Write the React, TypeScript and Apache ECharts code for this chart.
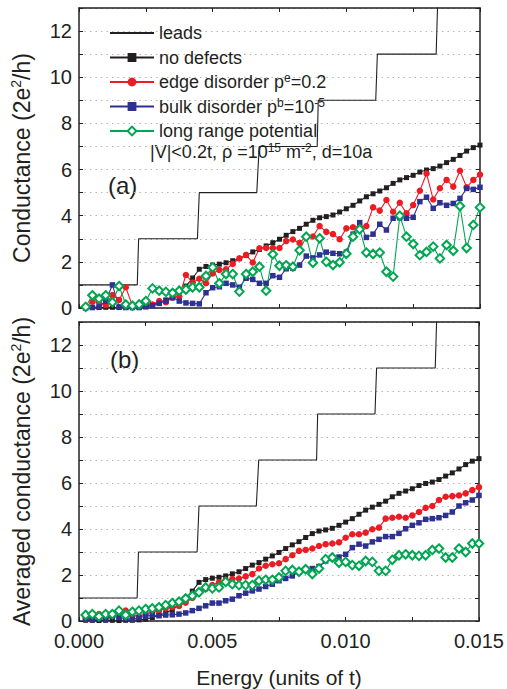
import React, { useEffect, useRef } from "react";
import * as echarts from "echarts";

// Energy grid (units of t)
const energy = [
  0.00025, 0.0005, 0.00075, 0.001, 0.00125, 0.0015, 0.00175, 0.002, 0.00225, 0.0025,
  0.00275, 0.003, 0.00325, 0.0035, 0.00375, 0.004, 0.00425, 0.0045, 0.00475, 0.005,
  0.00525, 0.0055, 0.00575, 0.006, 0.00625, 0.0065, 0.00675, 0.007, 0.00725, 0.0075,
  0.00775, 0.008, 0.00825, 0.0085, 0.00875, 0.009, 0.00925, 0.0095, 0.00975, 0.01,
  0.01025, 0.0105, 0.01075, 0.011, 0.01125, 0.0115, 0.01175, 0.012, 0.01225, 0.0125,
  0.01275, 0.013, 0.01325, 0.0135, 0.01375, 0.014, 0.01425, 0.0145, 0.01475, 0.015,
];

// leads: step function
const leadsE = [0, 0.00218, 0.00223, 0.00443, 0.0045, 0.00665, 0.00674, 0.00891, 0.00895, 0.0111, 0.01116, 0.01336, 0.01346];
const leadsG = [1, 1, 3, 3, 5, 5, 7, 7, 9, 9, 11, 11, 15];

// no defects (same in both panels)
const noDefects = [
  0.03, 0.03, 0.02, 0.03, 0.03, 0.02, 0.03, 0.03, 0.05, 0.08,
  0.15, 0.25, 0.35, 0.5, 0.7, 0.95, 1.3, 1.68, 1.8, 1.86,
  1.9, 1.96, 2.05, 2.14, 2.28, 2.43, 2.54, 2.69, 2.83, 2.98,
  3.15, 3.31, 3.45, 3.63, 3.8, 3.91, 3.96, 4.03, 4.16, 4.3,
  4.45, 4.64, 4.82, 4.95, 5.07, 5.21, 5.4, 5.55, 5.65, 5.75,
  5.89, 5.98, 6.04, 6.15, 6.3, 6.44, 6.61, 6.8, 6.95, 7.06,
];

// panel (a)
const edgeA = [
  0.06, 0.27, 0.25, 0.13, 0.56, 0.35, 0.9, 0.08, 0.12, 0.2,
  0.15, 0.3, 0.25, 0.45, 0.5, 1.43, 1.1, 1.27, 1.07, 1.5,
  1.65, 1.68, 1.91, 2.15, 2.3, 1.97, 2.59, 2.6, 2.6, 2.6,
  2.9, 2.97, 2.82, 3.1, 3.1, 3.55, 3.3, 3.2, 2.98, 3.45,
  3.5, 3.52, 3.55, 4.36, 4.22, 4.68, 4.17, 4.56, 4.1, 4.46,
  5.08, 5.83, 4.7, 5.19, 5.55, 5.26, 5.95, 5.23, 5.55, 5.78,
];
const bulkA = [
  0.0, 0.02, 0.05, 0.3, 1.0, 0.05, 0.02, 0.02, 0.02, 0.05,
  0.1, 0.2, 0.3, 0.45, 0.3, 0.22, 0.2, 0.18, 0.66, 0.88,
  0.92, 1.07, 1.0, 0.9, 1.29, 1.24, 1.07, 1.07, 1.4, 1.33,
  1.7, 1.72, 1.86, 2.25, 2.17, 2.3, 2.42, 2.37, 2.35, 2.42,
  3.2, 3.7, 3.06, 3.2, 3.63, 3.38, 3.89, 3.91, 3.89, 3.93,
  4.61, 4.8, 4.32, 4.56, 4.45, 4.53, 4.75, 5.18, 5.14, 5.23,
];
const longA = [
  0.05, 0.55, 0.4, 0.55, 0.25, 0.95, 0.15, 0.1, 0.15, 0.3,
  0.85, 0.75, 0.7, 0.65, 0.75, 0.8, 0.9, 0.9, 1.39, 1.76,
  1.07, 1.47, 1.47, 0.71, 1.47, 1.57, 1.79, 0.75, 2.33, 1.83,
  1.85, 1.79, 2.5, 3.09, 1.96, 3.02, 2.0, 1.86, 1.98, 2.35,
  3.09, 3.41, 2.4, 2.34, 2.4, 1.57, 1.36, 4.0, 3.09, 2.77,
  2.29, 2.43, 2.66, 2.15, 2.73, 2.48, 4.42, 2.6, 3.6, 4.36,
];

// panel (b), averaged
const edgeB = [
  0.1, 0.15, 0.3, 0.2, 0.25, 0.35, 0.45, 0.25, 0.2, 0.3,
  0.4, 0.45, 0.55, 0.6, 0.65, 0.8, 1.0, 1.28, 1.39, 1.56,
  1.68, 1.78, 1.82, 1.85, 1.94, 2.04, 2.28, 2.4, 2.47, 2.51,
  2.69, 2.86, 3.05, 3.09, 3.15, 3.26, 3.34, 3.37, 3.42, 3.62,
  3.77, 3.77, 3.84, 3.99, 4.06, 4.45, 4.49, 4.53, 4.49, 4.59,
  4.74, 4.92, 5.0, 5.26, 5.4, 5.43, 5.46, 5.55, 5.69, 5.82,
];
const bulkB = [
  0.09, 0.06, 0.1, 0.08, 0.2, 0.15, 0.1, 0.08, 0.15, 0.2,
  0.26, 0.23, 0.26, 0.27, 0.3, 0.35, 0.45, 0.55, 0.66, 0.78,
  0.78, 0.88, 0.95, 1.1, 1.21, 1.31, 1.39, 1.5, 1.6, 1.75,
  1.85, 1.96, 2.14, 2.25, 2.28, 2.37, 2.61, 2.72, 2.78, 2.9,
  3.19, 3.34, 3.26, 3.44, 3.55, 3.67, 3.67, 3.81, 4.01, 4.16,
  4.27, 4.42, 4.45, 4.49, 4.59, 4.74, 5.0, 5.14, 5.26, 5.46,
];
const longB = [
  0.26, 0.3, 0.2, 0.3, 0.3, 0.45, 0.26, 0.4, 0.45, 0.52,
  0.55, 0.6, 0.69, 0.78, 0.84, 0.98, 1.1, 1.25, 1.46, 1.42,
  1.46, 1.7, 1.6, 1.56, 1.56, 1.56, 1.75, 1.79, 1.79, 1.89,
  2.18, 2.22, 2.14, 2.25, 2.04, 2.28, 2.69, 2.76, 2.53, 2.57,
  2.43, 2.4, 2.61, 2.57, 2.18, 2.18, 2.66, 2.86, 2.9, 2.86,
  2.83, 2.86, 3.09, 3.15, 2.76, 2.76, 3.15, 3.0, 3.37, 3.37,
];

const xTicks = ["0.000", "0.005", "0.010", "0.015"];
const seriesNames = ["leads", "no defects", "edge disorder", "bulk disorder", "long range potential"];
const legendLabels: Record<string, string> = {
  "leads": "leads",
  "no defects": "no defects",
  "edge disorder": "edge disorder p{sup|e}=0.2",
  "bulk disorder": "bulk disorder p{sup|b}=10{sup|-5}",
  "long range potential": "long range potential",
};

const FONT = "'Liberation Sans', Arial, Helvetica, sans-serif";
const INK = "#231f20";
const RED = "#ed1c24";
const BLUE = "#2e3192";
const GREEN = "#00a651";

const pair = (ys: number[]) => energy.map((e, i) => [e, ys[i]]);

export default function App() {
  const ref = useRef<HTMLDivElement>(null);
  useEffect(() => {
    if (!ref.current) return;
    const chart = echarts.init(ref.current, undefined, { renderer: "svg" });

    const axisLine = { show: true, onZero: false, lineStyle: { color: INK, width: 1.5 } };
    const tick = { show: true, inside: true, length: 4, lineStyle: { color: INK, width: 1 } };

    const xFmt = (v: number) => {
      const n = Math.round(v / 0.0025);
      return n % 2 === 0 ? xTicks[n / 2] ?? "" : "";
    };
    const yFmt = (v: number) => (Math.round(v) % 2 === 0 ? String(Math.round(v)) : "");

    const mkX = (gridIndex: number, position: string, labels: boolean, name?: string) => ({
      type: "value",
      gridIndex,
      position,
      min: 0,
      max: 0.015,
      interval: 0.0025,
      axisLine,
      axisTick: tick,
      splitLine: { show: false },
      axisLabel: {
        show: labels,
        formatter: xFmt,
        fontSize: 20,
        color: INK,
        fontFamily: FONT,
        margin: 10,
        showMaxLabel: true,
        showMinLabel: true,
      },
      name: name || "",
      nameLocation: "middle",
      nameGap: 46,
      nameTextStyle: { fontSize: 21, color: INK, fontFamily: FONT },
    });

    const supRich = { sup: { fontSize: 14, verticalAlign: "top", lineHeight: 12, fontFamily: FONT, color: INK } };

    const mkY = (gridIndex: number, position: string, labels: boolean, name?: string) => ({
      type: "value",
      gridIndex,
      position,
      min: 0,
      max: 13,
      interval: 1,
      axisLine,
      axisTick: tick,
      splitLine: {
        show: labels,
        lineStyle: { color: "#b5b5b5", type: [1.5, 4], width: 1 },
      },
      axisLabel: {
        show: labels,
        formatter: yFmt,
        fontSize: 20,
        color: INK,
        fontFamily: FONT,
        margin: 7,
      },
      name: name || "",
      nameLocation: "middle",
      nameGap: 44,
      nameTextStyle: { fontSize: 23, color: INK, fontFamily: FONT, lineHeight: 26, rich: supRich },
    });

    const mkSeries = (xi: number, yi: number, sets: number[][]) => {
      const [nd, ed, bu, lo] = sets;
      return [
        {
          name: "leads",
          type: "line",
          xAxisIndex: xi,
          yAxisIndex: yi,
          data: leadsE.map((e, i) => [e, leadsG[i]]),
          symbol: "none",
          lineStyle: { color: INK, width: 1.1 },
          itemStyle: { color: INK },
        },
        {
          name: "no defects",
          type: "line",
          xAxisIndex: xi,
          yAxisIndex: yi,
          data: pair(nd),
          symbol: "rect",
          symbolSize: 5,
          lineStyle: { color: INK, width: 1.1 },
          itemStyle: { color: INK },
        },
        {
          name: "edge disorder",
          type: "line",
          xAxisIndex: xi,
          yAxisIndex: yi,
          data: pair(ed),
          symbol: "circle",
          symbolSize: 6.5,
          lineStyle: { color: RED, width: 1.1 },
          itemStyle: { color: RED },
        },
        {
          name: "bulk disorder",
          type: "line",
          xAxisIndex: xi,
          yAxisIndex: yi,
          data: pair(bu),
          symbol: "rect",
          symbolSize: 5.5,
          lineStyle: { color: BLUE, width: 1.1 },
          itemStyle: { color: BLUE },
        },
        {
          name: "long range potential",
          type: "line",
          xAxisIndex: xi,
          yAxisIndex: yi,
          data: pair(lo),
          symbol: "emptyDiamond",
          symbolSize: 8.5,
          lineStyle: { color: GREEN, width: 1.1 },
          itemStyle: { color: GREEN, borderWidth: 1.4 },
        },
      ];
    };

    chart.setOption({
      animation: false,
      backgroundColor: "#ffffff",
      grid: [
        { left: 79, top: 8, width: 401, height: 300 },
        { left: 79, top: 322, width: 401, height: 300 },
      ],
      xAxis: [
        mkX(0, "bottom", false),
        mkX(0, "top", false),
        mkX(1, "bottom", true, "Energy (units of t)"),
        mkX(1, "top", false),
      ],
      yAxis: [
        mkY(0, "left", true, "Conductance (2e{sup|2}/h)"),
        mkY(0, "right", false),
        mkY(1, "left", true, "Averaged conductance (2e{sup|2}/h)"),
        mkY(1, "right", false),
      ],
      legend: {
        data: seriesNames.map((n) => (n === "leads" ? { name: n, itemStyle: { opacity: 0 } } : { name: n })),
        orient: "vertical",
        left: 104,
        top: 18,
        itemWidth: 44,
        itemHeight: 11,
        itemGap: 4.5,
        selectedMode: false,
        formatter: (n: string) => legendLabels[n],
        textStyle: {
          fontSize: 18,
          color: INK,
          fontFamily: FONT,
          lineHeight: 20,
          rich: { sup: { fontSize: 12, verticalAlign: "top", lineHeight: 10, fontFamily: FONT, color: INK } },
        },
      },
      graphic: [
        {
          type: "text",
          left: 150,
          top: 142,
          style: {
            text: "|V|<0.2t, ρ =10{sup|15} m{sup|-2}, d=10a",
            fontSize: 18,
            fill: INK,
            fontFamily: FONT,
            lineHeight: 20,
            rich: { sup: { fontSize: 12, verticalAlign: "top", lineHeight: 10, fontFamily: FONT, fill: INK } },
          },
        },
        {
          type: "text",
          left: 108,
          top: 173,
          style: { text: "(a)", fontSize: 24, fill: INK, fontFamily: FONT },
        },
        {
          type: "text",
          left: 110,
          top: 347,
          style: { text: "(b)", fontSize: 24, fill: INK, fontFamily: FONT },
        },
      ],
      series: [...mkSeries(0, 0, [noDefects, edgeA, bulkA, longA]), ...mkSeries(2, 2, [noDefects, edgeB, bulkB, longB])],
    });

    return () => chart.dispose();
  }, []);

  return (
    <div
      ref={ref}
      style={{ position: "fixed", left: 0, top: 0, width: 507, height: 689, background: "#fff" }}
    />
  );
}
